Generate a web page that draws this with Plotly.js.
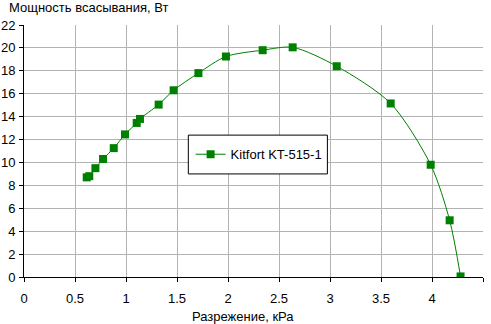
<!DOCTYPE html>
<html>
<head>
<meta charset="utf-8">
<script src="https://cdn.plot.ly/plotly-3.0.1.min.js"></script>
<style>html,body{margin:0;padding:0;background:#fff;}#chart{width:491px;height:324px;}</style>
</head>
<body>
<div id="chart"></div>
<script>
var seriesName = "Kitfort KT-515-1";
var pressure = [0.615, 0.64, 0.70, 0.775, 0.88, 0.99, 1.105, 1.137, 1.32, 1.467, 1.71, 1.98, 2.34, 2.634, 3.066, 3.595, 3.987, 4.173, 4.28];
var power = [8.7, 8.8, 9.5, 10.3, 11.25, 12.45, 13.45, 13.8, 15.05, 16.3, 17.8, 19.25, 19.8, 20.05, 18.4, 15.15, 9.8, 4.95, 0.05];
var xTicks = [0, 0.5, 1, 1.5, 2, 2.5, 3, 3.5, 4, 4.5];
var xTickText = ["0", "0.5", "1", "1.5", "2", "2.5", "3", "3.5", "4", "4.5"];
var yTicks = [0, 2, 4, 6, 8, 10, 12, 14, 16, 18, 20, 22];
var xTitle = "Разрежение, кРа";
var yTitle = "Мощность всасывания, Вт";

var font = {family: "Liberation Sans, Arial, sans-serif", size: 13, color: "#000"};

var trace = {
  x: pressure, y: power, name: seriesName, type: "scatter", mode: "lines+markers",
  line: {color: "#008000", width: 1, shape: "spline", smoothing: 0.8},
  marker: {symbol: "square", size: 8, color: "#008000"}
};

var layout = {
  width: 491, height: 324,
  margin: {l: 24, r: 8, t: 24.5, b: 46.5, pad: 0},
  paper_bgcolor: "#fff", plot_bgcolor: "#fff",
  font: font,
  showlegend: true,
  legend: {x: 0.363, y: 0.487, xanchor: "left", yanchor: "middle", bgcolor: "rgba(0,0,0,0)",
           borderwidth: 0, font: font},
  xaxis: {range: [0, 4.5], tickvals: xTicks, ticktext: xTickText, showgrid: true, gridcolor: "#b3b3b3", gridwidth: 1,
          showline: true, linecolor: "#000", linewidth: 1, ticks: "outside", ticklen: 4, tickcolor: "#000",
          zeroline: false, fixedrange: true, ticklabelstandoff: 5},
  yaxis: {range: [0, 22], tickvals: yTicks, showgrid: true, gridcolor: "#b3b3b3", gridwidth: 1,
          showline: true, linecolor: "#000", linewidth: 1, ticks: "outside", ticklen: 4, tickcolor: "#000",
          zeroline: false, fixedrange: true, ticklabelstandoff: 1},
  shapes: [
    {type: "rect", xref: "paper", yref: "paper", x0: 0.358, x1: 0.661, y0: 0.409, y1: 0.563,
     line: {color: "#000", width: 1}, fillcolor: "#fff", layer: "above"}
  ],
  annotations: [
    {text: yTitle, xref: "paper", yref: "paper", x: -0.038, y: 1.0, xanchor: "left", yanchor: "bottom", yshift: 8, showarrow: false, font: font},
    {text: xTitle, xref: "paper", yref: "paper", x: 0.478, y: 0, xanchor: "center", yanchor: "top", yshift: -30, showarrow: false, font: font}
  ]
};

Plotly.newPlot("chart", [trace], layout, {displayModeBar: false, staticPlot: true});
</script>
</body>
</html>
